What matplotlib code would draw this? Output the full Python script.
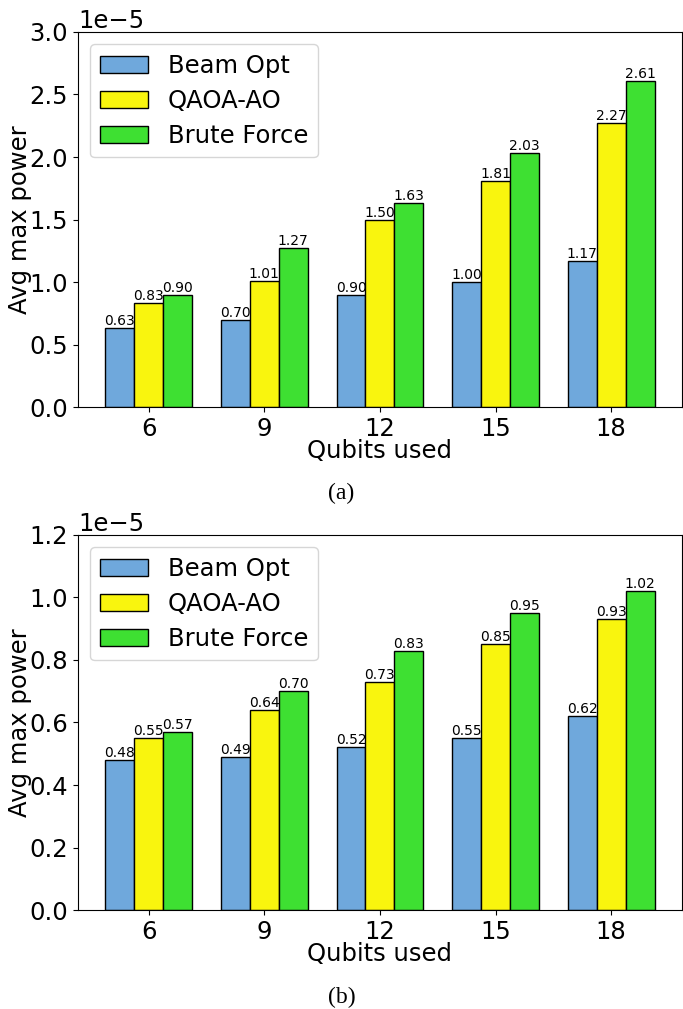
import numpy as np
import matplotlib.pyplot as plt

qubits = ["6", "9", "12", "15", "18"]
methods = ["Beam Opt", "QAOA-AO", "Brute Force"]
colors = ["#6fa8dc", "#f9f50e", "#3ee032"]

# panel (a), values in units of 1e-5
beam_a = [0.63, 0.70, 0.90, 1.00, 1.17]
qaoa_a = [0.83, 1.01, 1.50, 1.81, 2.27]
brute_a = [0.90, 1.27, 1.63, 2.03, 2.61]

# panel (b), values in units of 1e-5
beam_b = [0.48, 0.49, 0.52, 0.55, 0.62]
qaoa_b = [0.55, 0.64, 0.73, 0.85, 0.93]
brute_b = [0.57, 0.70, 0.83, 0.95, 1.02]

fig = plt.figure(figsize=(6.83, 10.09), dpi=100)
ax_a = fig.add_axes([0.114, 0.5966, 0.8845, 0.3717])
ax_b = fig.add_axes([0.114, 0.0981, 0.8845, 0.3717])

FS = 17.5


def draw(ax, series, ymax, yticks):
    x = np.arange(len(qubits))
    width = 0.25
    for i, (vals, name, c) in enumerate(zip(series, methods, colors)):
        vals = np.array(vals) * 1e-5
        bars = ax.bar(x + (i - 1) * width, vals, width, color=c,
                      edgecolor="black", linewidth=1, label=name)
        ax.bar_label(bars, labels=[f"{v * 1e5:.2f}" for v in vals],
                     fontsize=10, padding=0)
    ax.set_xticks(x)
    ax.set_xticklabels(qubits)
    ax.set_ylim(0, ymax)
    ax.set_yticks(np.array(yticks) * 1e-5)
    ax.tick_params(labelsize=FS)
    ax.yaxis.get_offset_text().set_fontsize(FS)
    ax.set_xlabel("Qubits used", fontsize=FS, labelpad=-1)
    ax.set_ylabel("Avg max power", fontsize=FS, labelpad=-2)
    ax.legend(loc="upper left", fontsize=FS, labelspacing=0.45)


draw(ax_a, [beam_a, qaoa_a, brute_a], 3.0e-5, [0, 0.5, 1.0, 1.5, 2.0, 2.5, 3.0])
draw(ax_b, [beam_b, qaoa_b, brute_b], 1.2e-5, [0, 0.2, 0.4, 0.6, 0.8, 1.0, 1.2])

fig.text(0.5, 1 - 493 / 1009, "(a)", ha="center", va="center",
         family="Liberation Serif", fontsize=17)
fig.text(0.5, 1 - 997 / 1009, "(b)", ha="center", va="center",
         family="Liberation Serif", fontsize=17)

fig.savefig("out.png", dpi=100)
